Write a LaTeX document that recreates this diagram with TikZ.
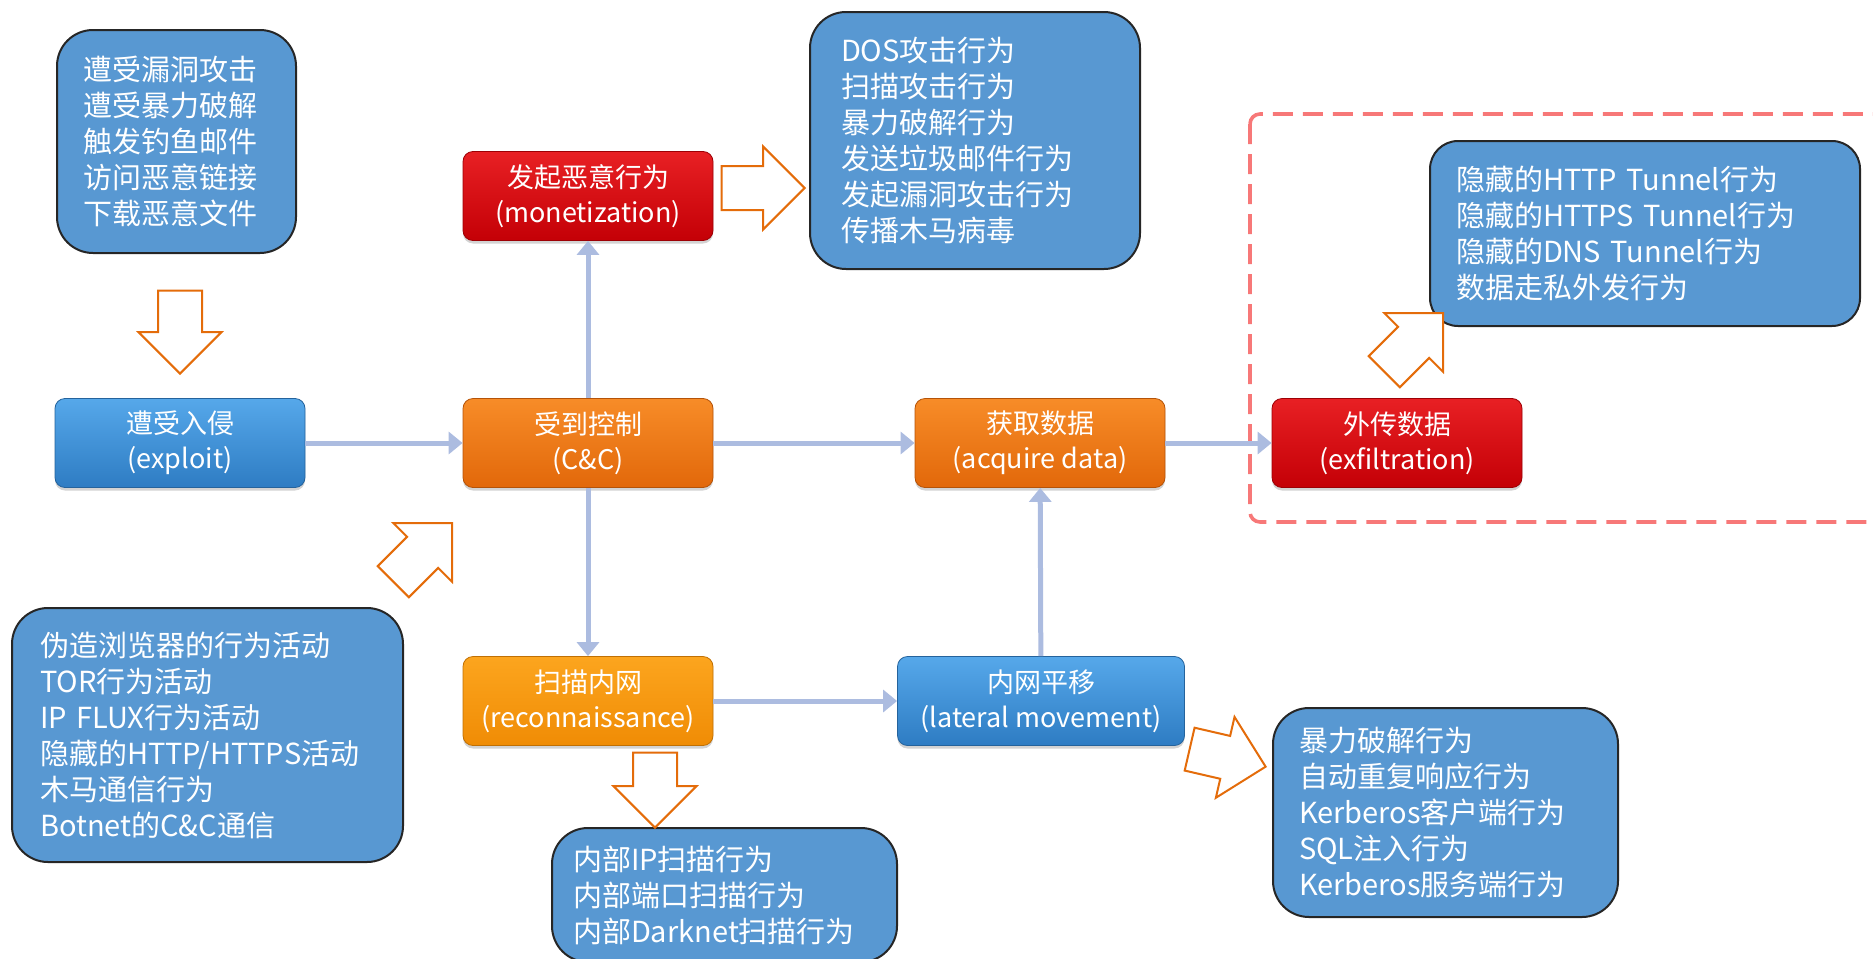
\documentclass[tikz,border=0pt]{standalone}
\usepackage{fontspec}
\setmainfont{Noto Sans CJK SC}
\usetikzlibrary{arrows.meta, shapes.arrows, shadows}

\definecolor{listblue}{RGB}{88,152,210}
\definecolor{bluetop}{RGB}{86,168,234}
\definecolor{bluebot}{RGB}{46,124,195}
\definecolor{orangetop}{RGB}{247,140,40}
\definecolor{orangebot}{RGB}{226,104,10}
\definecolor{ambertop}{RGB}{252,165,30}
\definecolor{amberbot}{RGB}{240,140,5}
\definecolor{redtop}{RGB}{232,32,36}
\definecolor{redbot}{RGB}{196,0,6}
\definecolor{flowline}{RGB}{172,188,224}
\definecolor{hollowedge}{RGB}{228,108,10}
\definecolor{dashred}{RGB}{247,120,120}

\tikzstyle{stage} = [rectangle, rounded corners=5pt,
minimum width=125pt,
minimum height=44.5pt,
align=center,
text=white,
font=\fontsize{13.5}{17.5}\selectfont,
drop shadow={shadow xshift=0pt, shadow yshift=-1.5pt, opacity=0.35}]
\tikzstyle{bluestage} = [stage, top color=bluetop, bottom color=bluebot, draw=bluebot!80!black]
\tikzstyle{orangestage} = [stage, top color=orangetop, bottom color=orangebot, draw=orangebot!80!black]
\tikzstyle{amberstage} = [stage, top color=ambertop, bottom color=amberbot, draw=amberbot!80!black]
\tikzstyle{redstage} = [stage, top color=redtop, bottom color=redbot, draw=redbot!80!black]
\tikzstyle{listbox} = [rectangle, rounded corners=18pt,
draw=black!85,
line width=1pt,
fill=listblue,
text=white,
align=left,
inner xsep=13pt,
font=\fontsize{14.5}{18}\selectfont]
\tikzstyle{hollow} = [single arrow,
draw=hollowedge,
line width=1pt,
fill=white,
minimum height=41.5pt,
minimum width=0pt,
inner xsep=0pt,
inner ysep=10.5pt,
single arrow head extend=9.75pt,
anchor=tip]
\tikzstyle{flow} = [draw=flowline, line width=2.5pt, -{Triangle[length=7pt,width=11pt]}]
\tikzstyle{dashframe} = [draw=dashred, line width=1.8pt, rounded corners=5pt, dash pattern=on 10pt off 5pt]

\begin{document}
\begin{tikzpicture}[x=0.5pt, y=-0.5pt]
\clip (0,0) rectangle (1873,958);

% dashed frame round the exfiltration part
\draw [dashframe] (1250,114) rectangle (1910,522);

\node (exploit) [bluestage] at (180,443) {遭受入侵\\(exploit)};
\node (cc) [orangestage] at (588,443) {受到控制\\(C\&C)};
\node (monet) [redstage] at (588,196) {发起恶意行为\\(monetization)};
\node (acq) [orangestage] at (1040,443) {获取数据\\(acquire data)};
\node (exfil) [redstage] at (1397,443) {外传数据\\(exfiltration)};
\node (recon) [amberstage] at (588,701) {扫描内网\\(reconnaissance)};
\node (lateral) [bluestage, minimum width=143.5pt] at (1041,701) {内网平移\\(lateral movement)};

\node (intrusionlist) [listbox, text width=93.5pt, minimum height=111.5pt] at (176.5,141.5)
{遭受漏洞攻击\\遭受暴力破解\\触发钓鱼邮件\\访问恶意链接\\下载恶意文件};
\node (attacklist) [listbox, text width=134pt, inner xsep=15.5pt, minimum height=128.5pt] at (975,140.5)
{DOS攻击行为\\扫描攻击行为\\暴力破解行为\\发送垃圾邮件行为\\发起漏洞攻击行为\\传播木马病毒};
\node (tunnellist) [listbox, rounded corners=14pt, text width=189pt, minimum height=92.5pt] at (1645,233.5)
{隐藏的HTTP Tunnel行为\\隐藏的HTTPS Tunnel行为\\隐藏的DNS Tunnel行为\\数据走私外发行为};
\node (covertlist) [listbox, text width=167.5pt, inner xsep=14pt, minimum height=127pt] at (207.5,735)
{伪造浏览器的行为活动\\TOR行为活动\\IP FLUX行为活动\\隐藏的HTTP/HTTPS活动\\木马通信行为\\Botnet的C\&C通信};
\node (scanlist) [listbox, text width=151.5pt, inner xsep=10.5pt, minimum height=67pt] at (724.5,895)
{内部IP扫描行为\\内部端口扫描行为\\内部Darknet扫描行为};
\node (movelist) [listbox, text width=146.5pt, minimum height=104.5pt] at (1445.5,812.5)
{暴力破解行为\\自动重复响应行为\\Kerberos客户端行为\\SQL注入行为\\Kerberos服务端行为};

% hollow arrows
\node (hollowA) [hollow, rotate=-90] at (180,375) {};
\node (hollowB) [hollow] at (806,188) {};
\node (hollowC) [hollow, rotate=45] at (453,522) {};
\node (hollowD) [hollow, rotate=-90, minimum height=37.5pt] at (655,829) {};
\node (hollowE) [hollow, rotate=45] at (1444,312) {};
\node (hollowF) [hollow, rotate=-13, minimum height=39pt] at (1267,767) {};

\draw [flow] (exploit) -- (cc);
\draw [flow] (cc) -- (monet);
\draw [flow] (cc) -- (acq);
\draw [flow] (cc) -- (recon);
\draw [flow] (acq) -- (exfil);
\draw [flow] (recon) -- (lateral);
\draw [flow] (lateral) -- (acq);

\end{tikzpicture}
\end{document}
